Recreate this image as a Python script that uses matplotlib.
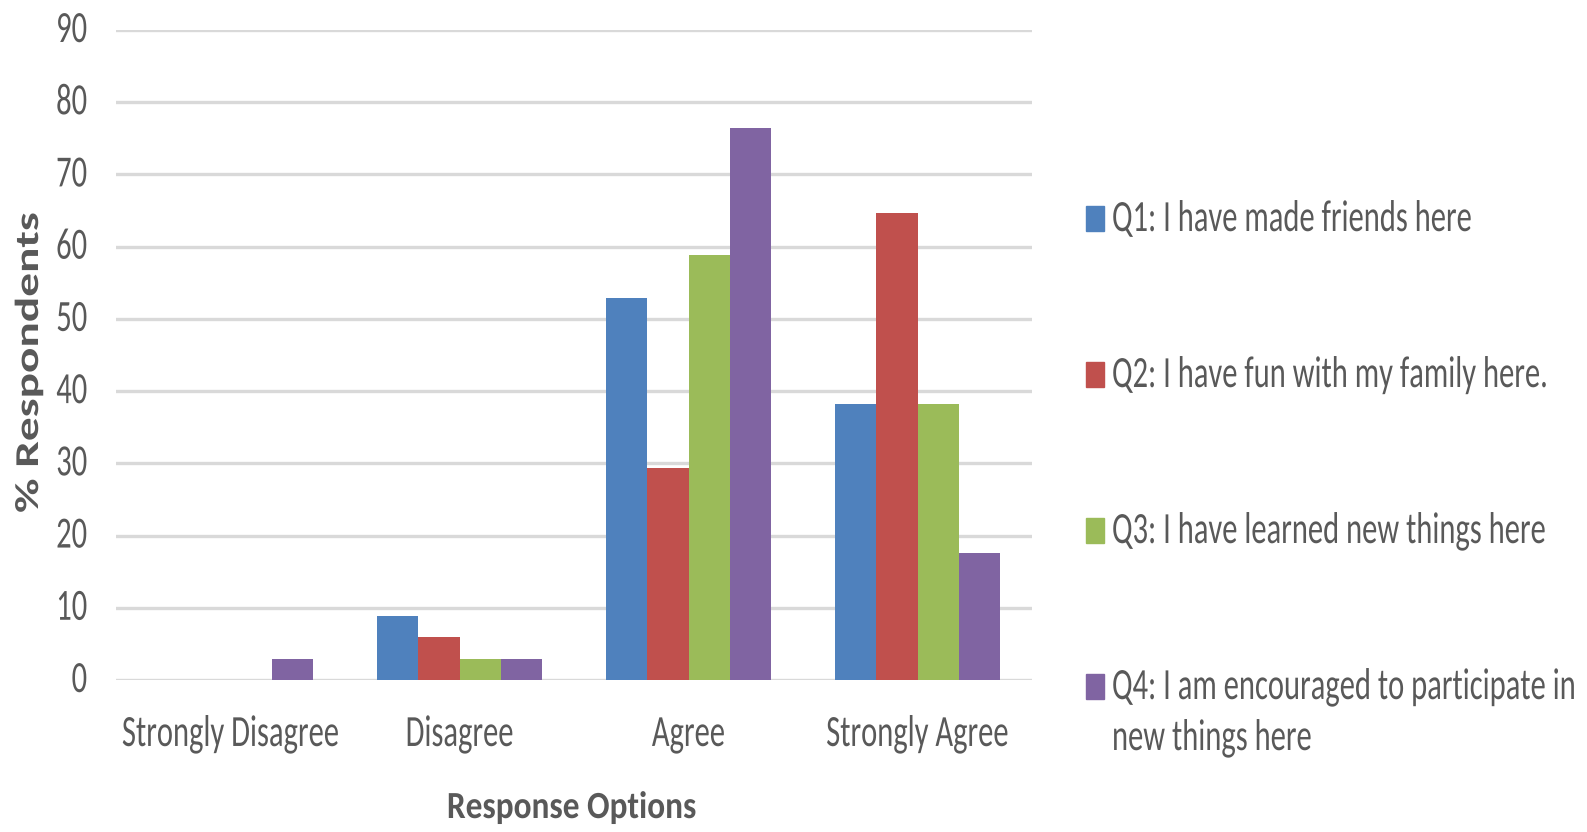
import numpy as np
import matplotlib.pyplot as plt
from matplotlib.patches import Rectangle
from matplotlib.patheffects import AbstractPathEffect
from matplotlib.transforms import Affine2D, ScaledTranslation

plt.rcParams['font.family'] = ['Carlito', 'DejaVu Sans']

categories = ["Strongly Disagree", "Disagree", "Agree", "Strongly Agree"]
series = [
    "Q1: I have made friends here",
    "Q2: I have fun with my family here.",
    "Q3: I have learned new things here",
    "Q4: I am encouraged to participate in\nnew things here",
]
q1 = [0.0, 8.8, 52.9, 38.2]
q2 = [0.0, 5.9, 29.4, 64.7]
q3 = [0.0, 2.9, 58.8, 38.2]
q4 = [2.9, 2.9, 76.5, 17.6]
yticks = list(range(0, 91, 10))
colors = ["#4F81BD", "#C0504D", "#9BBB59", "#8064A2"]

txt = "#595959"
grid = "#D9D9D9"
W, H = 1587, 832


class Stretch(AbstractPathEffect):
    """Scale glyph outlines in the text's own frame (around the baseline start)."""

    def __init__(self, sx=1.0, sy=1.0):
        super().__init__()
        self._sx, self._sy = sx, sy

    def draw_path(self, renderer, gc, tpath, affine, rgbFace=None):
        renderer.draw_path(gc, tpath, Affine2D().scale(self._sx, self._sy) + affine, rgbFace)


tall = [Stretch(1.0, 1.46)]

fig = plt.figure(figsize=(W / 100, H / 100), dpi=100)
ax = fig.add_axes([116 / W, 1 - 680 / H, 916 / W, 650 / H])

x = np.arange(len(categories))
w = 0.181
for i, (vals, c) in enumerate(zip([q1, q2, q3, q4], colors)):
    ax.bar(x + (i - 1.5) * w, vals, width=w, color=c, zorder=3)

ax.set_xlim(-0.5, 3.5)
ax.set_ylim(0, 90)
ax.set_yticks(yticks)
ax.yaxis.grid(True, color=grid, linewidth=2.4, zorder=0)
ax.set_axisbelow(True)
for s in ax.spines.values():
    s.set_visible(False)
ax.tick_params(length=0, labelleft=False)

# category labels under the axis
ax.set_xticks(x)
ax.set_xticklabels(categories, fontsize=22, color=txt, va="baseline", path_effects=tall)
ax.tick_params(axis="x", pad=47.5)

# value labels, baseline a little below each gridline
ytrans = ax.get_yaxis_transform() + ScaledTranslation(0, -0.12, fig.dpi_scale_trans)
for v in yticks:
    ax.text((87 - 116) / 916, v, str(v), transform=ytrans, ha="right", va="baseline",
            fontsize=22, color=txt, path_effects=tall)

fig.text(571.5 / W, 1 - 818 / H, "Response Options", ha="center", va="baseline",
         fontsize=24, fontweight="bold", color=txt, path_effects=[Stretch(1.0, 1.15)])
fig.text(38 / W, 1 - 513 / H, "% Respondents", rotation=90, rotation_mode="anchor",
         ha="left", va="baseline", fontsize=24, fontweight="bold", color=txt,
         path_effects=[Stretch(1.42, 1.0)])

# legend: square marker sitting on the first line's baseline
base0, step, lead = 231, 156, 51
for i, (lab, c) in enumerate(zip(series, colors)):
    b = base0 + i * step
    fig.add_artist(Rectangle((1086 / W, 1 - b / H), 18 / W, 25 / H,
                             transform=fig.transFigure, color=c))
    for j, line in enumerate(lab.split("\n")):
        fig.text(1112 / W, 1 - (b + j * lead) / H, line, fontsize=22, color=txt,
                 ha="left", va="baseline", path_effects=tall)

fig.savefig("out.png", dpi=100)
